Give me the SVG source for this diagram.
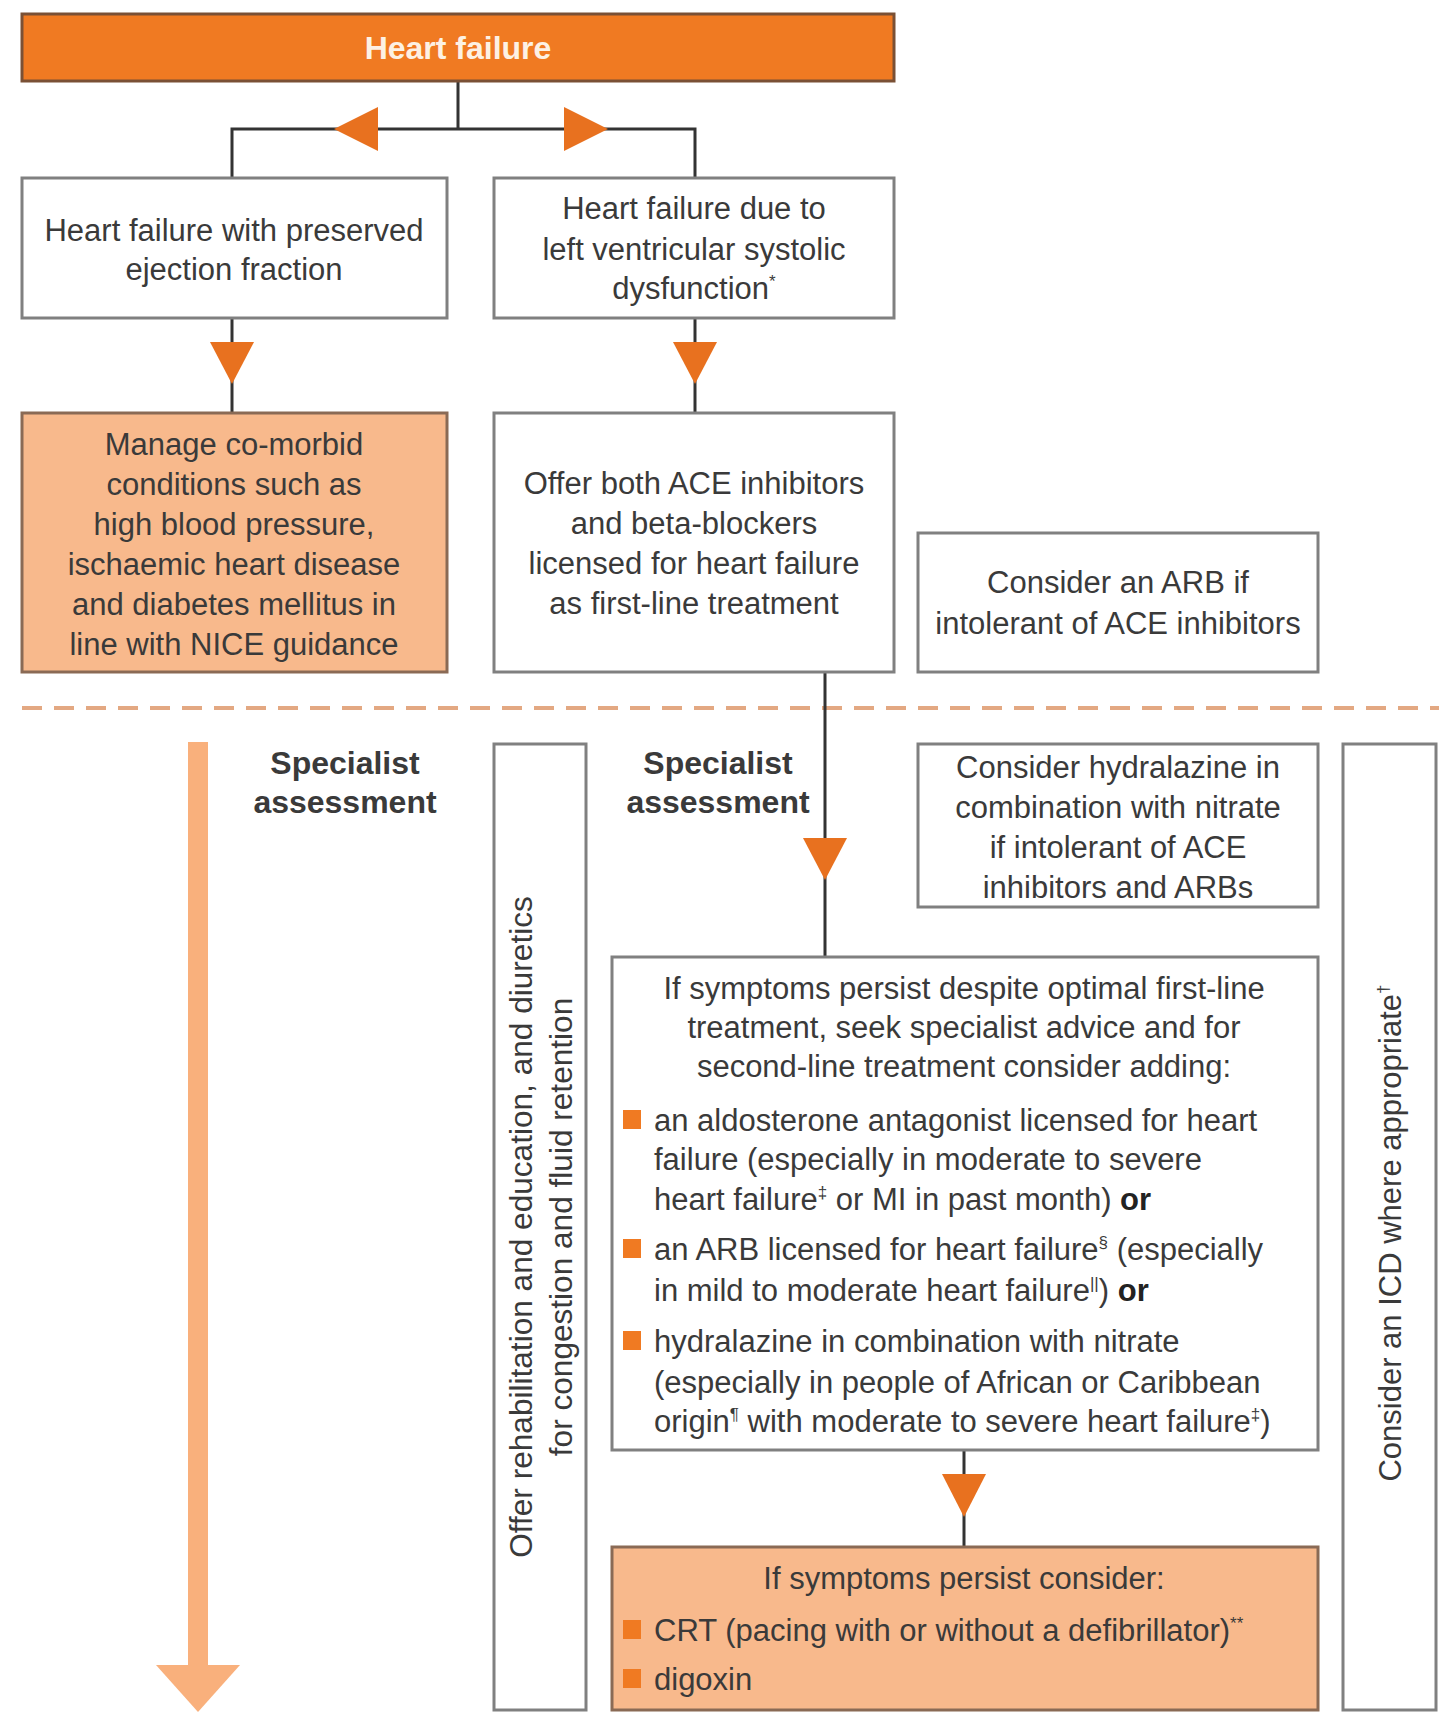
<svg xmlns="http://www.w3.org/2000/svg" width="1439" height="1719" viewBox="0 0 1439 1719">
<style>
.box{fill:#fff;stroke:#808080;stroke-width:3}
.obox{fill:#F8B98C;stroke:#8a6a55;stroke-width:3}
.t{font-family:"Liberation Sans",Arial,sans-serif;font-size:31px;fill:#3a3a3a}
.c{text-anchor:middle}
.b{font-weight:bold}
.h{font-size:32px}
.r{font-size:31.6px}
.sup{font-size:17px}
.ln{stroke:#333;stroke-width:3;fill:none}
.tri{fill:#E8711F}
.bul{fill:#F07A22}
</style>
<rect width="1439" height="1719" fill="#fff"/>

<!-- divider -->
<line x1="22" y1="708" x2="1439" y2="708" stroke="#E3A882" stroke-width="4" stroke-dasharray="20 12"/>

<!-- big arrow -->
<g id="progress-arrow">
<rect x="188" y="742" width="20" height="925" fill="#F9B07C"/>
<polygon points="156,1665 240,1665 198,1712" fill="#F9B07C"/>
</g>

<g id="connectors">
<path class="ln" d="M458,81 V129 M232,178 V129 H695 V178"/>
<polygon class="tri" points="334,129 378,107 378,151"/>
<polygon class="tri" points="608,129 564,107 564,151"/>
<path class="ln" d="M232,318 V413"/>
<polygon class="tri" points="210,342 254,342 232,384"/>
<path class="ln" d="M695,318 V413"/>
<polygon class="tri" points="673,342 717,342 695,384"/>
<path class="ln" d="M825,672 V957"/>
<polygon class="tri" points="803,838 847,838 825,880"/>
<path class="ln" d="M964,1450 V1547"/>
<polygon class="tri" points="942,1474 986,1474 964,1517"/>
</g>

<g id="heart-failure">
<rect x="22" y="14" width="872" height="67" fill="#F07A22" stroke="#7a5035" stroke-width="3"/>
<text class="t c b h" x="458" y="59" style="fill:#FDF1E4">Heart failure</text>
</g>

<g id="hfpef">
<rect class="box" x="22" y="178" width="425" height="140"/>
<text class="t c" x="234" y="241">Heart failure with preserved</text>
<text class="t c" x="234" y="280">ejection fraction</text>
</g>

<g id="lvsd">
<rect class="box" x="494" y="178" width="400" height="140"/>
<text class="t c" x="694" y="219">Heart failure due to</text>
<text class="t c" x="694" y="260">left ventricular systolic</text>
<text class="t c" x="694" y="299">dysfunction<tspan class="sup" dy="-12">*</tspan></text>
</g>

<g id="comorbid">
<rect class="obox" x="22" y="413" width="425" height="259"/>
<text class="t c" x="234" y="455">Manage co-morbid</text>
<text class="t c" x="234" y="495">conditions such as</text>
<text class="t c" x="234" y="535">high blood pressure,</text>
<text class="t c" x="234" y="575">ischaemic heart disease</text>
<text class="t c" x="234" y="615">and diabetes mellitus in</text>
<text class="t c" x="234" y="655">line with NICE guidance</text>
</g>

<g id="first-line">
<rect class="box" x="494" y="413" width="400" height="259"/>
<text class="t c" x="694" y="494">Offer both ACE inhibitors</text>
<text class="t c" x="694" y="534">and beta-blockers</text>
<text class="t c" x="694" y="574">licensed for heart failure</text>
<text class="t c" x="694" y="614">as first-line treatment</text>
</g>

<g id="arb">
<rect class="box" x="918" y="533" width="400" height="139"/>
<text class="t c" x="1118" y="593">Consider an ARB if</text>
<text class="t c" x="1118" y="634">intolerant of ACE inhibitors</text>
</g>

<g id="specialist-1">
<text class="t c b h" x="345" y="774">Specialist</text>
<text class="t c b h" x="345" y="813">assessment</text>
</g>

<g id="specialist-2">
<text class="t c b h" x="718" y="774">Specialist</text>
<text class="t c b h" x="718" y="813">assessment</text>
</g>

<g id="rehab">
<rect class="box" x="494" y="744" width="92" height="966"/>
<text class="t c r" transform="translate(532,1227) rotate(-90)">Offer rehabilitation and education, and diuretics</text>
<text class="t c r" transform="translate(572,1227) rotate(-90)">for congestion and fluid retention</text>
</g>

<g id="hydralazine">
<rect class="box" x="918" y="744" width="400" height="163"/>
<text class="t c" x="1118" y="778">Consider hydralazine in</text>
<text class="t c" x="1118" y="818">combination with nitrate</text>
<text class="t c" x="1118" y="858">if intolerant of ACE</text>
<text class="t c" x="1118" y="898">inhibitors and ARBs</text>
</g>

<g id="icd">
<rect class="box" x="1343" y="744" width="93" height="966"/>
<text class="t c" transform="translate(1401,1233) rotate(-90)">Consider an ICD where appropriate<tspan class="sup" dy="-12">†</tspan></text>
</g>

<g id="second-line">
<rect class="box" x="612" y="957" width="706" height="493"/>
<text class="t c" x="964" y="999">If symptoms persist despite optimal first-line</text>
<text class="t c" x="964" y="1038">treatment, seek specialist advice and for</text>
<text class="t c" x="964" y="1077">second-line treatment consider adding:</text>
<rect class="bul" x="623" y="1110" width="18" height="19"/>
<text class="t" x="654" y="1131">an aldosterone antagonist licensed for heart</text>
<text class="t" x="654" y="1170">failure (especially in moderate to severe</text>
<text class="t" x="654" y="1210">heart failure<tspan class="sup" dy="-12">‡</tspan><tspan dy="12"> or MI in past month) </tspan><tspan class="b" style="fill:#222">or</tspan></text>
<rect class="bul" x="623" y="1239" width="18" height="19"/>
<text class="t" x="654" y="1260">an ARB licensed for heart failure<tspan class="sup" dy="-12">§</tspan><tspan dy="12"> (especially</tspan></text>
<text class="t" x="654" y="1301">in mild to moderate heart failure<tspan class="sup" dy="-12">||</tspan><tspan dy="12">) </tspan><tspan class="b" style="fill:#222">or</tspan></text>
<rect class="bul" x="623" y="1331" width="18" height="19"/>
<text class="t" x="654" y="1352">hydralazine in combination with nitrate</text>
<text class="t" x="654" y="1393">(especially in people of African or Caribbean</text>
<text class="t" x="654" y="1432">origin<tspan class="sup" dy="-12">¶</tspan><tspan dy="12"> with moderate to severe heart failure</tspan><tspan class="sup" dy="-12">‡</tspan><tspan dy="12">)</tspan></text>
</g>

<g id="third-line">
<rect class="obox" x="612" y="1547" width="706" height="163"/>
<text class="t c" x="964" y="1589">If symptoms persist consider:</text>
<rect class="bul" x="623" y="1620" width="18" height="19"/>
<text class="t" x="654" y="1641">CRT (pacing with or without a defibrillator)<tspan class="sup" dy="-12">**</tspan></text>
<rect class="bul" x="623" y="1669" width="18" height="19"/>
<text class="t" x="654" y="1690">digoxin</text>
</g>
</svg>
